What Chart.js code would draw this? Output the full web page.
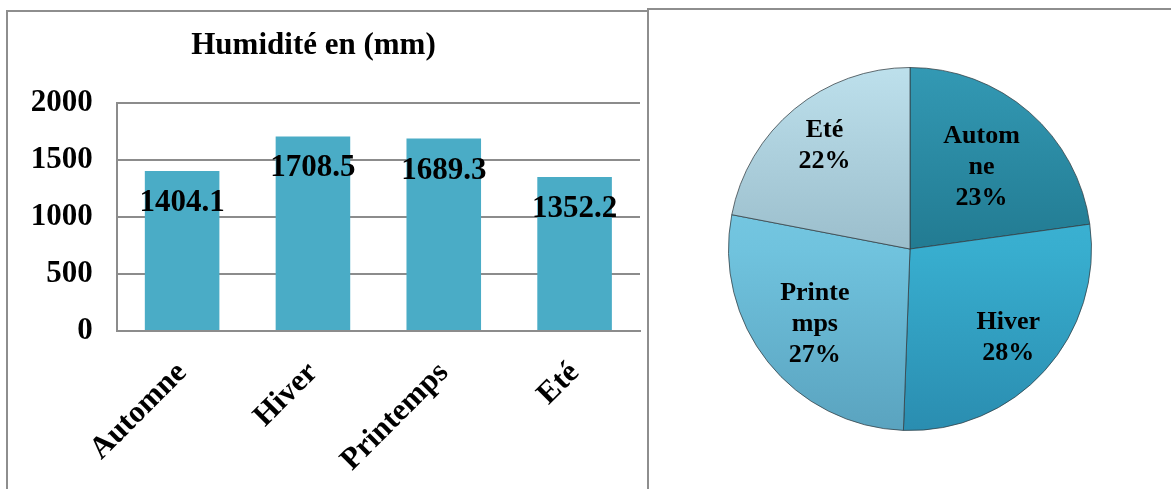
<!DOCTYPE html>
<html>
<head>
<meta charset="utf-8">
<script src="https://cdn.jsdelivr.net/npm/chart.js@4.4.1/dist/chart.umd.min.js"></script>
<style>
  html, body { margin: 0; padding: 0; width: 1171px; height: 489px; overflow: hidden; background: #ffffff; }
  .panel { position: absolute; box-sizing: border-box; border: 2px solid #8e8e8e; background: #ffffff; }
  #leftPanel { left: 6px; top: 10px; width: 643px; height: 520px; }
  #rightPanel { left: 647px; top: 8px; width: 526px; height: 520px; }
  canvas { position: absolute; }
  #barCanvas { left: -13px; top: 12px; }
  #pieCanvas { left: 649px; top: 10px; }
</style>
</head>
<body>
<div class="panel" id="leftPanel"></div>
<div class="panel" id="rightPanel"></div>
<canvas id="barCanvas" width="660" height="477"></canvas>
<canvas id="pieCanvas" width="520" height="479"></canvas>
<script>
// ---- data ----
const categories = ['Automne', 'Hiver', 'Printemps', 'Eté'];
const humidityValues = [1404.1, 1708.5, 1689.3, 1352.2];
const yTickValues = [0, 500, 1000, 1500, 2000];
const chartTitle = 'Humidité en (mm)';
const pieLabelLines = [['Autom', 'ne'], ['Hiver'], ['Printe', 'mps'], ['Eté']];

const FONT = '"Liberation Serif", "Times New Roman", serif';
Chart.defaults.font.family = FONT;
Chart.defaults.color = '#000000';

// ---- bar value labels ----
const barValueLabels = {
  id: 'barValueLabels',
  afterDatasetsDraw(chart, args, opts) {
    const ctx = chart.ctx;
    const meta = chart.getDatasetMeta(0);
    ctx.save();
    ctx.font = 'bold 31px ' + FONT;
    ctx.fillStyle = '#000';
    ctx.textAlign = 'center';
    ctx.textBaseline = 'middle';
    meta.data.forEach((bar, i) => {
      const v = chart.data.datasets[0].data[i];
      ctx.fillText(v.toFixed(1), bar.x, bar.y + opts.offset);
    });
    ctx.restore();
  }
};

new Chart(document.getElementById('barCanvas'), {
  type: 'bar',
  data: {
    labels: categories,
    datasets: [{
      data: humidityValues,
      backgroundColor: '#4aacc6',
      borderWidth: 0,
      categoryPercentage: 1.0,
      barPercentage: 0.57
    }]
  },
  options: {
    responsive: false,
    animation: false,
    devicePixelRatio: 1,
    layout: { padding: { left: 0, right: 7, top: 0, bottom: 0 } },
    plugins: {
      legend: { display: false },
      tooltip: { enabled: false },
      title: {
        display: true,
        text: chartTitle,
        color: '#000',
        font: { size: 31, weight: 'bold', family: FONT, lineHeight: 1.2 },
        padding: { top: 15, bottom: 39 }
      },
      barValueLabels: { offset: 32 }
    },
    scales: {
      y: {
        min: 0,
        max: 2000,
        afterBuildTicks(scale) { scale.ticks = yTickValues.map(v => ({ value: v })); },
        afterFit(scale) { scale.width = 129.7; },
        ticks: {
          color: '#000',
          padding: 24,
          callback: (v) => String(v),
          font: { size: 31, weight: 'bold', family: FONT }
        },
        grid: { color: '#8c8c8c', lineWidth: 2, drawTicks: false },
        border: { display: true, color: '#8c8c8c', width: 2 }
      },
      x: {
        afterFit(scale) { scale.height = 158; },
        ticks: {
          color: '#000',
          minRotation: 45,
          maxRotation: 45,
          padding: 24,
          font: { size: 31, weight: 'bold', family: FONT }
        },
        grid: { display: false, drawTicks: false },
        border: { display: true, color: '#8c8c8c', width: 2 }
      }
    }
  },
  plugins: [barValueLabels]
});

// ---- pie ----
const total = humidityValues.reduce((a, b) => a + b, 0);

const pieGradientStops = [
  ['#3399b4', '#227b92', '#125a6c'],
  ['#48bde0', '#38aecf', '#2a8db0'],
  ['#82d1ea', '#70c3de', '#5aa3bf'],
  ['#bde0ec', '#9bbecc', '#84a6b4']
];

function sliceFill(ctx) {
  const chart = ctx.chart;
  const area = chart.chartArea;
  if (!area) return '#4aacc6';
  const g = chart.ctx.createLinearGradient(0, area.top, 0, area.bottom);
  const s = pieGradientStops[ctx.dataIndex];
  g.addColorStop(0, s[0]);
  g.addColorStop(0.5, s[1]);
  g.addColorStop(1, s[2]);
  return g;
}

const pieLabels = {
  id: 'pieLabels',
  afterDatasetsDraw(chart, args, opts) {
    const ctx = chart.ctx;
    const meta = chart.getDatasetMeta(0);
    ctx.save();
    ctx.font = 'bold 26px ' + FONT;
    ctx.fillStyle = '#000';
    ctx.textAlign = 'center';
    ctx.textBaseline = 'middle';
    meta.data.forEach((arc, i) => {
      const p = arc.getProps(['x', 'y', 'startAngle', 'endAngle', 'outerRadius'], true);
      const mid = (p.startAngle + p.endAngle) / 2;
      const r = p.outerRadius * opts.radiusFactor[i];
      const cx = p.x + Math.cos(mid) * r;
      const cy = p.y + Math.sin(mid) * r;
      const pct = Math.round(chart.data.datasets[0].data[i] / total * 100) + '%';
      const lines = pieLabelLines[i].concat([pct]);
      const lh = opts.lineHeight;
      const y0 = cy - (lines.length - 1) * lh / 2;
      lines.forEach((t, k) => ctx.fillText(t, cx, y0 + k * lh));
    });
    ctx.restore();
  }
};

new Chart(document.getElementById('pieCanvas'), {
  type: 'pie',
  data: {
    labels: categories,
    datasets: [{
      data: humidityValues,
      backgroundColor: sliceFill,
      borderColor: 'rgba(50,60,65,0.75)',
      borderWidth: 1
    }]
  },
  options: {
    responsive: false,
    animation: false,
    devicePixelRatio: 1,
    layout: { padding: { left: 79, right: 77, top: 57, bottom: 58 } },
    plugins: {
      legend: { display: false },
      tooltip: { enabled: false },
      title: { display: false },
      pieLabels: { radiusFactor: [0.6, 0.73, 0.67, 0.74], lineHeight: 31 }
    }
  },
  plugins: [pieLabels]
});
</script>
</body>
</html>
